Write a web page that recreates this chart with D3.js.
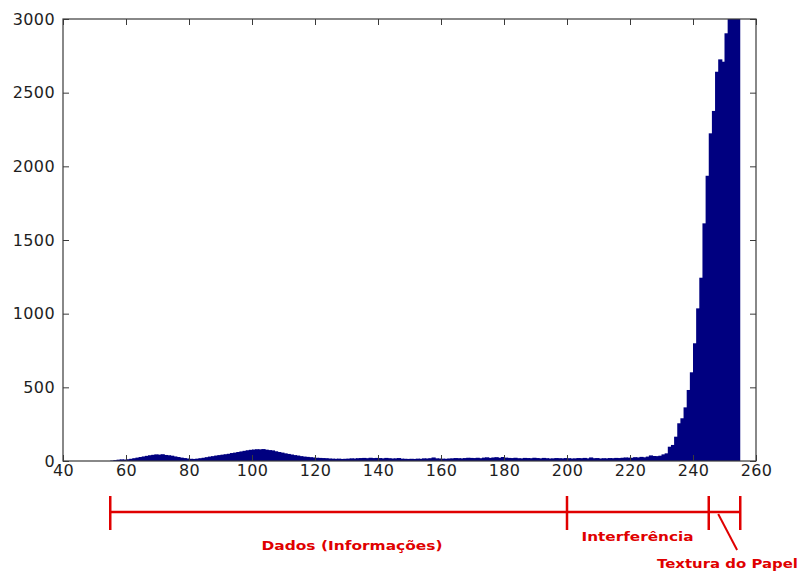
<!DOCTYPE html>
<html>
<head>
<meta charset="utf-8">
<script src="https://cdn.jsdelivr.net/npm/d3@7/dist/d3.min.js"></script>
<style>
  html, body { margin: 0; padding: 0; background: #fff; }
  svg { display: block; }
</style>
</head>
<body>
<svg id="chart" width="805" height="574"></svg>
<script>
// Grey-level histogram of a scanned page: pixel count per intensity level.
const firstLevel = 55;
const counts = [
  3, 6, 9, 11, 10,
  12, 15, 19, 23, 27,
  31, 35, 39, 42, 45,
  43, 46, 41, 39, 36,
  31, 27, 23, 20, 17,
  15, 14, 16, 19, 22,
  26, 30, 33, 37, 40,
  43, 46, 49, 54, 57,
  61, 65, 69, 73, 76,
  78, 80, 79, 81, 77,
  74, 72, 66, 61, 57,
  52, 48, 44, 40, 37,
  33, 30, 28, 26, 24,
  22, 21, 20, 19, 17,
  16, 15, 16, 14, 15,
  16, 18, 17, 19, 20,
  21, 19, 22, 20, 21,
  20, 18, 21, 19, 17,
  18, 20, 16, 15, 14,
  15, 14, 16, 15, 18,
  17, 19, 24, 18, 17,
  16, 15, 17, 18, 20,
  19, 18, 20, 22, 21,
  20, 22, 19, 23, 25,
  21, 24, 26, 22, 27,
  23, 21, 20, 22, 19,
  18, 21, 20, 19, 22,
  20, 18, 21, 19, 17,
  18, 20, 19, 18, 20,
  19, 17, 18, 20, 19,
  21, 18, 24, 19, 20,
  17, 19, 18, 20, 19,
  21, 20, 22, 24, 23,
  22, 26, 24, 28, 25,
  30, 38, 34, 33, 36,
  45, 52, 97, 109, 165,
  256, 290, 364, 482, 602,
  799, 1036, 1244, 1613, 1936,
  2224, 2376, 2642, 2726, 2710,
  2903, 3120, 3480, 3650, 3320
];
const levels = counts.map((_, i) => firstLevel + i);

const xTicks = [40, 60, 80, 100, 120, 140, 160, 180, 200, 220, 240, 260];
const yTicks = [0, 500, 1000, 1500, 2000, 2500, 3000];

// Intensity ranges marked under the axis
const rangeBounds = [55, 200, 245, 255];
const rangeLabels = ["Dados (Informações)", "Interferência", "Textura do Papel"];

(function draw() {
  const svg = d3.select("#chart");
  const plot = { left: 63, right: 756, top: 19, bottom: 461 };

  const x = d3.scaleLinear().domain([40, 260]).range([plot.left, plot.right]);
  const y = d3.scaleLinear().domain([0, 3000]).range([plot.bottom, plot.top]);

  svg.append("rect").attr("width", 805).attr("height", 574).attr("fill", "#fff");

  svg.append("defs").append("clipPath").attr("id", "plotClip")
    .append("rect").attr("x", plot.left).attr("y", plot.top)
    .attr("width", plot.right - plot.left).attr("height", plot.bottom - plot.top);

  // bars: each level occupies [v, v+1); a slight overlap hides seams
  svg.append("g").attr("clip-path", "url(#plotClip)")
    .selectAll("rect").data(levels).join("rect")
    .attr("x", v => x(v))
    .attr("width", (v, i) => x(v + 1) - x(v) + (i < levels.length - 1 ? 1 : 0))
    .attr("y", (v, i) => y(counts[i]))
    .attr("height", (v, i) => y(0) - y(counts[i]))
    .attr("fill", "#000080");

  const axisColor = "#3a3a3a";
  const fontStyle = g => g.selectAll("text")
    .attr("font-family", "DejaVu Sans, sans-serif")
    .attr("font-size", 16)
    .attr("letter-spacing", 0.4)
    .attr("fill", "#1e1e1e");
  const lineStyle = g => {
    g.select(".domain").remove();
    g.selectAll("line").attr("stroke", axisColor);
  };

  svg.append("g").attr("transform", `translate(0,${plot.bottom})`)
    .call(d3.axisBottom(x).tickValues(xTicks).tickSize(-6).tickPadding(4).tickFormat(d3.format("d")))
    .call(lineStyle).call(fontStyle);
  svg.append("g").attr("transform", `translate(0,${plot.top})`)
    .call(d3.axisTop(x).tickValues(xTicks).tickSize(-6).tickFormat(""))
    .call(lineStyle);
  svg.append("g").attr("transform", `translate(${plot.left},0)`)
    .call(d3.axisLeft(y).tickValues(yTicks).tickSize(-6).tickPadding(8).tickFormat(d3.format("d")))
    .call(lineStyle).call(fontStyle);
  svg.append("g").attr("transform", `translate(${plot.right},0)`)
    .call(d3.axisRight(y).tickValues(yTicks).tickSize(-6).tickFormat(""))
    .call(lineStyle);

  svg.append("rect")
    .attr("x", plot.left).attr("y", plot.top)
    .attr("width", plot.right - plot.left).attr("height", plot.bottom - plot.top)
    .attr("fill", "none").attr("stroke", axisColor).attr("stroke-width", 1.2);

  // range annotation below the axis
  const red = "#e00000";
  const ann = svg.append("g").attr("stroke", red).attr("stroke-width", 2.5);
  const lineY = 512;
  ann.append("line")
    .attr("x1", x(rangeBounds[0])).attr("x2", x(rangeBounds[rangeBounds.length - 1]))
    .attr("y1", lineY).attr("y2", lineY);
  ann.selectAll("line.cap").data(rangeBounds).join("line").attr("class", "cap")
    .attr("x1", d => x(d)).attr("x2", d => x(d))
    .attr("y1", 496).attr("y2", 530);
  ann.append("line")
    .attr("x1", x(248)).attr("y1", 514)
    .attr("x2", x(254)).attr("y2", 550)
    .attr("stroke-width", 2);

  const labelPos = [
    { cx: 352, by: 550, w: 181 },
    { cx: 637.5, by: 541, w: 112 },
    { cx: 727.5, by: 568, w: 141 }
  ];
  svg.append("g").selectAll("text").data(rangeLabels).join("text")
    .attr("x", (d, i) => labelPos[i].cx)
    .attr("y", (d, i) => labelPos[i].by)
    .attr("text-anchor", "middle")
    .attr("font-family", "DejaVu Sans, sans-serif")
    .attr("font-weight", "bold")
    .attr("font-size", 13)
    .attr("textLength", (d, i) => labelPos[i].w)
    .attr("lengthAdjust", "spacingAndGlyphs")
    .attr("fill", red)
    .text(d => d);
})();
</script>
</body>
</html>
